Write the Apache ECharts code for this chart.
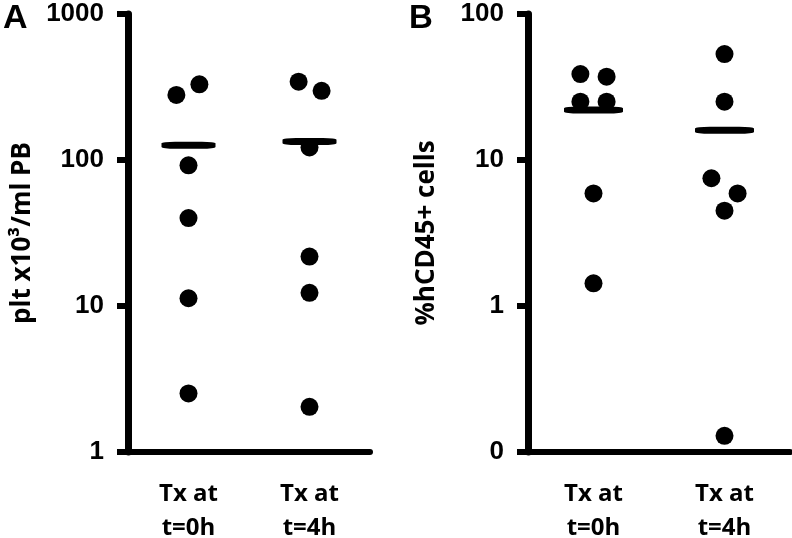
<!DOCTYPE html>
<html>
<head>
<meta charset="utf-8">
<script src="https://cdn.jsdelivr.net/npm/echarts@6/dist/echarts.min.js"></script>
<style>
    html, body { margin: 0; padding: 0; background: #fff; }
    #chart { width: 792px; height: 538px; }
</style>
</head>
<body>
<div id="chart"></div>
<script>
    // categories (both panels)
    var groups = ['Tx at\nt=0h', 'Tx at\nt=4h'];

    // panel A: plt x10^3/ml PB
    var pltT0 = [279, 330, 92, 40, 11.3, 2.52];
    var pltT4 = [344, 298, 122, 21.8, 12.3, 2.04];
    var pltMean = [126, 134];

    // panel B: %hCD45+ cells
    var cdT0 = [38.8, 37.2, 25.1, 25.1, 5.9, 1.43];
    var cdT4 = [53.2, 25.1, 7.5, 5.9, 4.5, 0.129];
    var cdMean = [22.0, 16.0];

    // horizontal spread of the dots inside a column (category units)
    var jitA0 = [-0.1, 0.09, 0, 0, 0, 0];
    var jitA4 = [-0.09, 0.1, 0, 0, 0, 0];
    var jitB0 = [-0.1, 0.1, -0.1, 0.1, 0, 0];
    var jitB4 = [0, 0, -0.1, 0.1, 0, 0];

    var txtFont = '"Open Sans", sans-serif';
    var numFont = '"Liberation Sans", Arial, sans-serif';

    function pts(vals, jit, idx) {
        return vals.map(function (v, i) { return [idx + jit[i], v]; });
    }
    function means(vals) {
        return vals.map(function (v, i) { return [i, v]; });
    }

    function catAxis(grid) {
        return {
            type: 'category', gridIndex: grid, data: groups,
            axisLine: { onZero: false, lineStyle: { color: '#000', width: 6 } },
            axisTick: { show: false },
            axisLabel: {
                color: '#000', fontFamily: txtFont, fontWeight: 'bold',
                fontSize: 24, lineHeight: 34, margin: 25
            }
        };
    }
    function posAxis(grid) {
        return { type: 'value', gridIndex: grid, min: -0.5, max: 1.5, show: false };
    }
    function logAxis(grid, min, max, name, gap) {
        return {
            type: 'log', logBase: 10, gridIndex: grid, min: min, max: max,
            name: name, nameLocation: 'middle', nameGap: gap, nameRotate: 90,
            nameTextStyle: { color: '#000', fontFamily: txtFont, fontWeight: 'bold', fontSize: 26 },
            axisLine: { show: true, onZero: false, lineStyle: { color: '#000', width: 7 } },
            axisTick: { show: true, length: 11, lineStyle: { color: '#000', width: 6 } },
            splitLine: { show: false },
            axisLabel: {
                color: '#000', fontFamily: numFont, fontWeight: 'bold', fontSize: 26, margin: 24,
                formatter: function (v) { return v < 1 ? '0' : String(Math.round(v)); }
            }
        };
    }
    function dots(xi, yi, data) {
        return {
            type: 'scatter', xAxisIndex: xi, yAxisIndex: yi, data: data,
            symbol: 'circle', symbolSize: 18, itemStyle: { color: '#000', opacity: 1 }, z: 3
        };
    }
    function bar(xi, yi, data, w) {
        return {
            type: 'scatter', xAxisIndex: xi, yAxisIndex: yi, data: data,
            symbol: 'roundRect', symbolSize: [w, 7], itemStyle: { color: '#000', opacity: 1 }, z: 4
        };
    }

    var chart = echarts.init(document.getElementById('chart'), null, { renderer: 'canvas' });
    chart.setOption({
        animation: false,
        backgroundColor: '#fff',
        grid: [
            { left: 128, top: 14, width: 242, height: 438, outerBoundsMode: 'none' },
            { left: 528, top: 14, width: 262, height: 438, outerBoundsMode: 'none' }
        ],
        xAxis: [catAxis(0), catAxis(1), posAxis(0), posAxis(1)],
        yAxis: [
            logAxis(0, 1, 1000, 'plt x10³/ml PB', 92),
            logAxis(1, 0.1, 100, '%hCD45+ cells', 88)
        ],
        graphic: [
            { type: 'text', left: 3, top: 2, style: { text: 'A', fontSize: 34, fontWeight: 'bold', fontFamily: numFont, fill: '#000' } },
            { type: 'text', left: 409, top: 2, style: { text: 'B', fontSize: 33, fontWeight: 'bold', fontFamily: numFont, fill: '#000' } }
        ],
        series: [
            dots(2, 0, pts(pltT0, jitA0, 0)),
            dots(2, 0, pts(pltT4, jitA4, 1)),
            bar(2, 0, means(pltMean), 54),
            dots(3, 1, pts(cdT0, jitB0, 0)),
            dots(3, 1, pts(cdT4, jitB4, 1)),
            bar(3, 1, means(cdMean), 59)
        ]
    });
</script>
</body>
</html>
